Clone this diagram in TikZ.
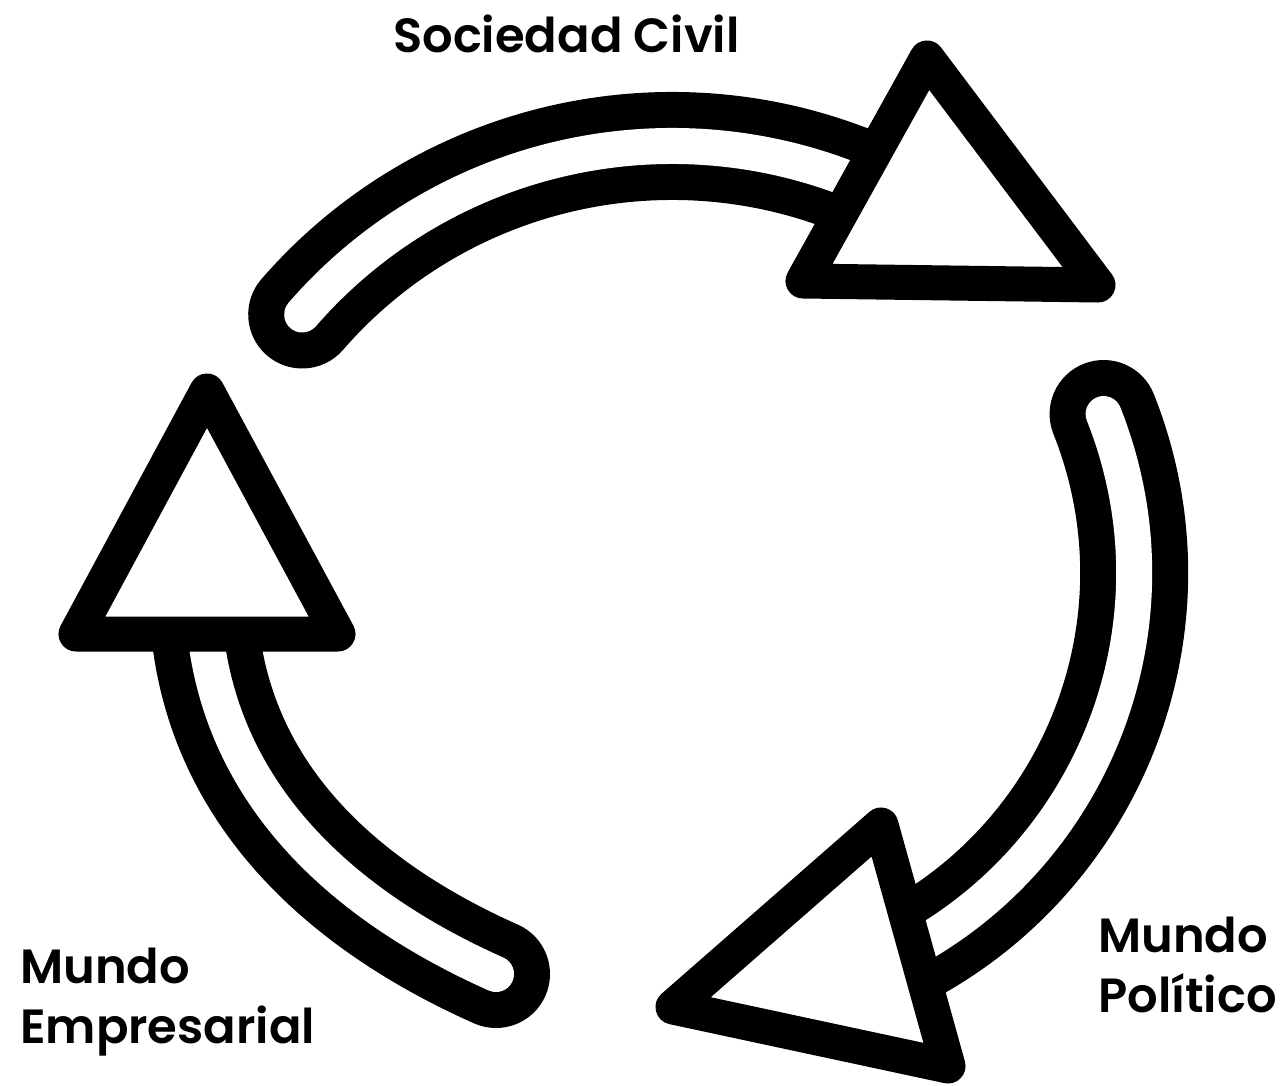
\documentclass[tikz,border=0pt]{standalone}
\usepackage{fontspec}
\setmainfont{Poppins}[BoldFont={Poppins SemiBold}]
\begin{document}
\begin{tikzpicture}[x=1pt,y=-1pt,
  bandout/.style={line width=108pt, line cap=round, draw=black},
  bandin/.style={line width=36pt, line cap=round, draw=white},
  head/.style={line width=35pt, line join=round, fill=white, draw=black},
  lbl/.style={font=\bfseries\fontsize{48}{60}\selectfont, anchor=base west, inner sep=0pt, align=left}]
\useasboundingbox (0,0) rectangle (1288,1085);
\fill[white] (0,0) rectangle (1288,1085);
% top arrow (towards the right)
\coordinate (ts) at (302.2,314.5);
\draw[bandout] (ts) arc[start angle=-139,end angle=-60,radius=490];
\draw[bandin] (ts) arc[start angle=-139,end angle=-60,radius=490];
\draw[head] (927,58) -- (803,281) -- (1098,285) -- cycle;
% right arrow (downwards)
\coordinate (rs) at (1103.6,414.0);
\draw[bandout] (rs) arc[start angle=-21.7,end angle=68,radius=430];
\draw[bandin] (rs) arc[start angle=-21.7,end angle=68,radius=430];
\draw[head] (881,825) -- (673,1007) -- (948,1066) -- cycle;
% left arrow (upwards)
\coordinate (ls) at (496,974);
\coordinate (le) at (203,600);
\draw[bandout] (ls) .. controls (330,900) and (208,780) .. (le);
\draw[bandin] (ls) .. controls (330,900) and (208,780) .. (le);
\draw[head] (207,391) -- (76,634) -- (338,634) -- cycle;
% labels
\node[lbl] (sc) at (393,52) {Sociedad Civil};
\node[lbl] (me) at (20,1043) {Mundo\\Empresarial};
\node[lbl] (mp) at (1098,1012) {Mundo\\Político};
\end{tikzpicture}
\end{document}
